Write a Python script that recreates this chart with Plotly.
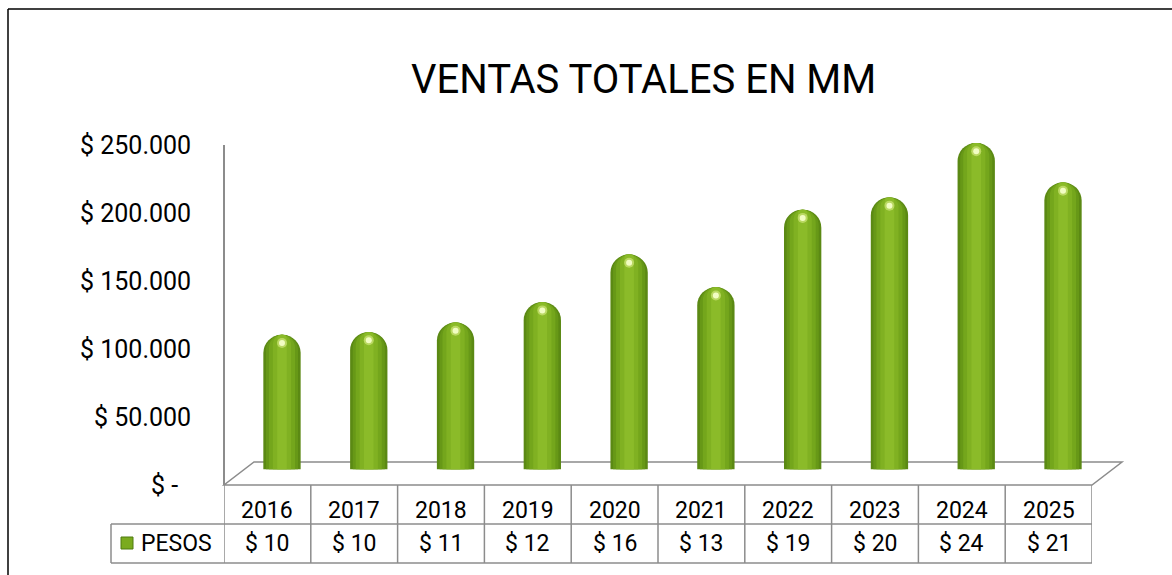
import plotly.graph_objects as go

# ---------------- data ----------------
years = ["2016", "2017", "2018", "2019", "2020", "2021", "2022", "2023", "2024", "2025"]
pesos = [99000, 101000, 108000, 123000, 158000, 134000, 191000, 200000, 240000, 211000]
tick_vals = [0, 50000, 100000, 150000, 200000, 250000]
tick_text = ["$ -", "$ 50.000", "$ 100.000", "$ 150.000", "$ 200.000", "$ 250.000"]
table_labels = ["$ " + str(round(v / 10000)) for v in pesos]
series_name = "PESOS"
title_text = "VENTAS TOTALES EN MM"

W, H = 1172, 575
FONT = "Roboto"
GRID = "#8c8c8c"


def px(x):
    return x / W


def py(y):
    return 1 - y / H


fig = go.Figure()

# cylinder shading layers (outer -> inner)
layers = [
    (0.43, "#5b8914"),
    (0.37, "#679817"),
    (0.30, "#74a61c"),
    (0.21, "#80b122"),
    (0.11, "#8bbb29"),
]
cap = [-4500] * len(years)
for w, c in layers:
    fig.add_trace(go.Bar(x=years, y=cap, width=w, marker=dict(color=c, cornerradius="50%", line_width=0),
                         showlegend=False, hoverinfo="skip"))
for w, c in layers:
    fig.add_trace(go.Bar(x=years, y=pesos, width=w, name=series_name,
                         marker=dict(color=c, cornerradius="50%", line_width=0),
                         showlegend=False))
# specular highlight near the top of each cylinder
fig.add_trace(go.Scatter(x=years, y=[v - 6000 for v in pesos], mode="markers",
                         marker=dict(size=10, color="#c6e070", opacity=0.8, line_width=0),
                         showlegend=False, hoverinfo="skip"))
fig.add_trace(go.Scatter(x=years, y=[v - 6000 for v in pesos], mode="markers",
                         marker=dict(size=6, color="#f4ffc8", opacity=0.95, line_width=0),
                         showlegend=False, hoverinfo="skip"))

# invisible trace to instantiate table / tick axes
fig.add_trace(go.Scatter(x=[0], y=[0], xaxis="x2", yaxis="y2", mode="markers",
                         marker=dict(opacity=0), showlegend=False, hoverinfo="skip"))

shapes = []
# 3D floor
x0, x1, dx, yf, yb = 224, 1092, 30, 485, 462
shapes.append(dict(type="path", xref="paper", yref="paper", layer="below",
                   path=f"M {px(x0)},{py(yf)} L {px(x1)},{py(yf)} L {px(x1+dx)},{py(yb)} L {px(x0+dx)},{py(yb)} Z",
                   line=dict(color=GRID, width=1.5), fillcolor="white"))

# table grid
row1, row2, row3 = 485, 524, 563
legend_left = 111
shapes.append(dict(type="line", xref="paper", yref="paper", x0=px(legend_left), x1=px(x1), y0=py(row2), y1=py(row2),
                   line=dict(color=GRID, width=1.5)))
shapes.append(dict(type="line", xref="paper", yref="paper", x0=px(legend_left), x1=px(x1), y0=py(row3), y1=py(row3),
                   line=dict(color=GRID, width=1.5)))
shapes.append(dict(type="line", xref="paper", yref="paper", x0=px(legend_left), x1=px(legend_left), y0=py(row2), y1=py(row3),
                   line=dict(color=GRID, width=1.5)))
for i in range(len(years) + 1):
    shapes.append(dict(type="line", xref="x2", yref="paper", x0=i - 0.5, x1=i - 0.5, y0=py(row1), y1=py(row3),
                       line=dict(color=GRID, width=1.5)))
# legend key
shapes.append(dict(type="rect", xref="paper", yref="paper", x0=px(121), x1=px(133), y0=py(549), y1=py(537),
                   line=dict(color="#4f7a10", width=1), fillcolor="#7aab1e"))
# outer border
shapes.append(dict(type="line", xref="paper", yref="paper", x0=px(8), x1=px(8), y0=py(9), y1=0,
                   line=dict(color="black", width=1.5)))
shapes.append(dict(type="line", xref="paper", yref="paper", x0=px(8), x1=1, y0=py(9), y1=py(9),
                   line=dict(color="black", width=1.5)))

annotations = []
for tv, tt in zip(tick_vals, tick_text):
    annotations.append(dict(x=px(193 if tv else 180), y=tv, xref="paper", yref="y2", text=tt, showarrow=False,
                            font=dict(family=FONT, size=25, color="black"), xanchor="right", yanchor="middle"))
for i, (yr, lab) in enumerate(zip(years, table_labels)):
    annotations.append(dict(x=i, y=py(510), xref="x2", yref="paper", text=yr, showarrow=False,
                            font=dict(family=FONT, size=23, color="black"), xanchor="center", yanchor="middle"))
    annotations.append(dict(x=i, y=py(543), xref="x2", yref="paper", text=lab, showarrow=False,
                            font=dict(family=FONT, size=23, color="black"), xanchor="center", yanchor="middle"))
annotations.append(dict(x=px(139), y=py(543), xref="paper", yref="paper", text=series_name, showarrow=False,
                        font=dict(family=FONT, size=23, color="black"), xanchor="left", yanchor="middle"))
annotations.append(dict(x=px(643), y=py(79), xref="paper", yref="paper", text=title_text, showarrow=False,
                        font=dict(family=FONT, size=40, color="black"), xanchor="center", yanchor="middle"))

fig.update_layout(
    width=W, height=H,
    margin=dict(l=0, r=0, t=0, b=0),
    paper_bgcolor="white", plot_bgcolor="rgba(0,0,0,0)",
    barmode="overlay",
    showlegend=False,
    xaxis=dict(domain=[px(238.6), px(1106.4)], range=[-0.5, 9.5], visible=False, type="category",
               categoryorder="array", categoryarray=years),
    yaxis=dict(domain=[py(469.5), py(129.5)], range=[0, 250000], visible=False),
    xaxis2=dict(domain=[px(224), px(1092)], range=[-0.5, 9.5], visible=False, anchor="y2"),
    yaxis2=dict(domain=[py(485), py(145)], range=[0, 250000], anchor="free", position=px(224),
                showticklabels=False, ticks="", showgrid=False, zeroline=False,
                showline=True, linecolor=GRID, linewidth=1.5),
    shapes=shapes,
    annotations=annotations,
    font=dict(family=FONT),
)

fig.write_html("out.html", config={"displayModeBar": False},
               post_script="document.body.style.margin='0';document.body.style.overflow='hidden';")
